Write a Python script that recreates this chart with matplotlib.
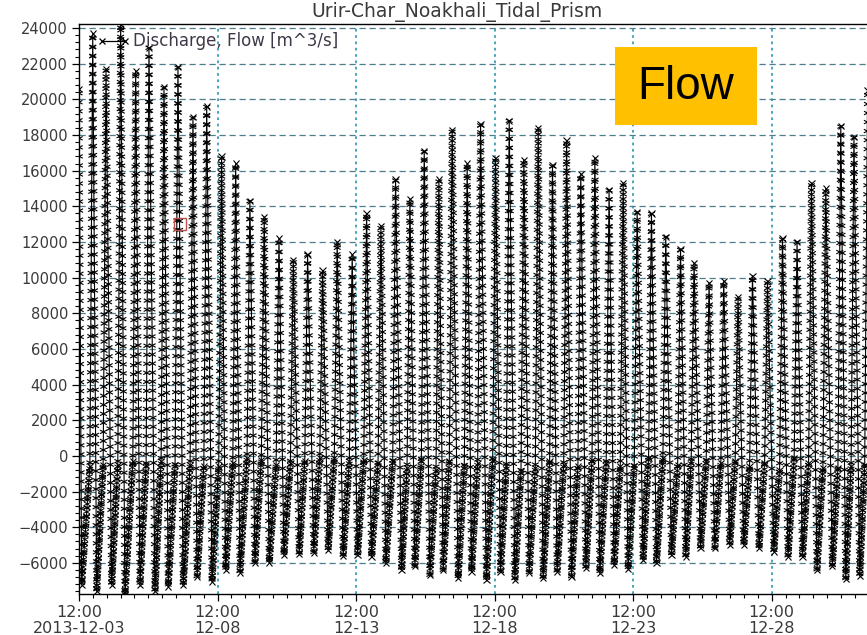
import datetime as dt

import matplotlib
matplotlib.use('Agg')
import matplotlib.pyplot as plt
import matplotlib.dates as mdates
import matplotlib.patheffects as pe
from matplotlib.lines import Line2D
from matplotlib.patches import Rectangle
from matplotlib.ticker import MultipleLocator, FixedLocator

start = dt.datetime(2013, 12, 3, 12, 0)

# flood peaks (hours after 2013-12-03 12:00, m^3/s)
peak_hours = [0.0, 11.9, 23.4, 36.1, 49.1, 60.6, 73.6, 85.7, 98.7, 110.6,
              123.5, 135.7, 148.0, 160.4, 173.2, 185.6, 198.0, 211.0, 223.6, 236.6,
              249.1, 261.5, 274.2, 286.6, 299.0, 311.7, 323.2, 336.2, 347.8, 360.8,
              372.6, 385.3, 397.7, 410.1, 422.3, 434.6, 446.8, 459.1, 471.3, 483.4,
              495.8, 508.2, 521.0, 532.7, 545.7, 558.4, 570.8, 583.3, 596.3, 609.3,
              621.9, 634.4, 646.8, 659.8, 671.2, 683.0]
peak_flow = [20600, 23700, 21700, 24200, 21600, 22900, 20700, 21800, 19000, 19600,
             16800, 16400, 14300, 13400, 12200, 11000, 11300, 10400, 12000, 11300,
             13600, 12900, 15500, 14400, 17100, 15500, 18300, 16400, 18600, 16700,
             18800, 16600, 18400, 16300, 17700, 15800, 16700, 14900, 15300, 13700,
             13600, 12300, 11600, 10800, 9700, 9800, 8900, 10100, 9800, 12200,
             12000, 15300, 15000, 18500, 17900, 20500]

# strongest ebb after each peak
trough_hours = [2.3, 15.3, 28.3, 39.8, 52.8, 65.8, 77.3, 90.3, 102.3, 115.2,
                127.0, 139.4, 152.4, 164.8, 177.5, 190.7, 203.4, 215.8, 228.8, 241.3,
                253.4, 265.8, 279.4, 290.9, 303.9, 315.4, 328.4, 340.0, 352.9, 365.1,
                377.5, 389.9, 402.0, 414.1, 426.6, 439.0, 451.1, 463.5, 475.6, 488.6,
                500.2, 513.2, 525.5, 538.3, 550.7, 563.6, 575.8, 589.0, 601.8, 614.1,
                626.6, 639.2, 652.5, 664.1, 676.2]
trough_flow = [-7230, -7600, -7230, -7800, -7230, -7600, -7330, -7230, -6770, -7050,
               -6390, -6540, -5980, -5980, -5550, -5500, -5420, -5270, -5610, -5550,
               -5640, -6020, -6390, -6200, -6670, -6390, -6860, -6490, -6950, -6490,
               -6950, -6540, -6860, -6490, -6770, -6300, -6580, -6110, -6350, -5830,
               -6020, -5550, -5650, -5180, -5180, -4990, -4990, -5180, -5370, -5650,
               -5650, -6390, -6200, -6910, -6730]

# weak ebb just before the next flood
slack_hours = [9.4, 20.9, 33.6, 46.6, 58.1, 71.1, 83.2, 96.2, 108.1, 121.0,
               133.2, 145.5, 157.9, 170.7, 183.1, 195.5, 208.5, 221.1, 234.1, 246.6,
               259.0, 271.7, 284.1, 296.5, 309.2, 320.7, 333.7, 345.3, 358.3, 370.1,
               382.8, 395.2, 407.6, 419.8, 432.1, 444.3, 456.6, 468.8, 480.9, 493.3,
               505.7, 518.5, 530.2, 543.2, 555.9, 568.3, 580.8, 593.8, 606.8, 619.4,
               631.9, 644.3, 657.3, 668.7, 680.5]
slack_flow = [-600, -505, -505, -320, -505, -320, -505, -505, -600, -600,
              -410, -130, -220, -505, -410, -320, -130, -130, -320, -220,
              -410, -320, -690, -220, -785, -320, -600, -410, -220, -600,
              -880, -690, -320, -505, -600, -220, -410, -600, -600, -130,
              -130, -505, -320, -320, -410, -320, -600, -410, -785, -130,
              -410, -690, -690, -600, -505]

# small red box drawn on the original chart
box_hours = [87.4]
box_flow = [13000]

tick_days = [3, 8, 13, 18, 23, 28]
tick_labels = ['12:00\n2013-12-03', '12:00\n12-08', '12:00\n12-13',
               '12:00\n12-18', '12:00\n12-23', '12:00\n12-28']


def when(h):
    return start + dt.timedelta(hours=h)


# peak -> trough -> slack -> next peak
hours = [peak_hours[0]]
flow = [peak_flow[0]]
for k in range(len(trough_hours)):
    hours += [trough_hours[k], slack_hours[k], peak_hours[k + 1]]
    flow += [trough_flow[k], slack_flow[k], peak_flow[k + 1]]
times = [when(h) for h in hours]

txt = '#3a3a3a'
plt.rcParams['font.family'] = ['DejaVu Sans']

fig = plt.figure(figsize=(8.67, 6.35), dpi=100)
W, H = 867, 635
ax = fig.add_axes([79 / W, 1 - 594 / H, (W - 79) / W, (594 - 24) / H])


def xmarks(spacing, arm):
    # little x-crosses stamped along a path
    return [pe.TickedStroke(spacing=spacing, angle=a, length=arm / spacing)
            for a in (62, 118, -62, -118)]


line, = ax.plot(times, flow, color='black', lw=0.8, marker='x', ms=4.5, mew=0.8, zorder=3)
line.set_path_effects([pe.Normal()] + xmarks(6.5, 2.4))

# the slow ebb legs (trough -> slack) carry many more samples
for k in range(len(trough_hours)):
    seg, = ax.plot([when(trough_hours[k]), when(slack_hours[k])],
                   [trough_flow[k], slack_flow[k]], color='black', lw=0.7, zorder=3)
    seg.set_path_effects(xmarks(2.8, 2.4))

ax.plot([when(h) for h in box_hours], box_flow, ls='none',
        marker='s', ms=8, mfc='none', mec='#c0504d', mew=1, zorder=4)

ax.set_xlim(start, when(682.5))
ax.set_ylim(-7750, 24230)

ax.xaxis.set_major_locator(FixedLocator([mdates.date2num(dt.datetime(2013, 12, d, 12)) for d in tick_days]))
ax.set_xticklabels(tick_labels)
ax.xaxis.set_minor_locator(mdates.HourLocator(byhour=[0, 12]))
ax.yaxis.set_major_locator(MultipleLocator(2000))
ax.yaxis.set_minor_locator(MultipleLocator(400))

ax.tick_params(axis='both', which='major', length=5, width=0.9, color='black', labelcolor=txt)
ax.tick_params(axis='both', which='minor', length=3, width=0.8, color='black')
ax.tick_params(axis='y', labelsize=10.5, pad=3)
ax.tick_params(axis='x', labelsize=11.5, pad=3)
for lab in ax.get_xticklabels():
    lab.set_linespacing(1.05)

ax.grid(axis='y', which='major', color='#4f7f8f', ls=(0, (5, 3)), lw=0.9)
ax.grid(axis='x', which='major', color='#3a9fb5', ls=(0, (1.5, 2)), lw=1.3)
ax.set_axisbelow(True)
ax.spines['right'].set_visible(False)
for s in ('left', 'top', 'bottom'):
    ax.spines[s].set_linewidth(1.0)

handle = Line2D([], [], color='black', lw=0.9, marker='x', ms=5, mew=0.9)
ax.legend([handle], ['Discharge, Flow [m^3/s]'], loc='upper left', bbox_to_anchor=(0.012, 1.0),
          frameon=False, fontsize=12, handlelength=2.0, handletextpad=0.2, numpoints=2,
          labelcolor='#403848', borderaxespad=0.1)

fig.text(457 / W, 1 - 12 / H, 'Urir-Char_Noakhali_Tidal_Prism', ha='center', va='center',
         fontsize=13.5, color=txt)

fig.add_artist(Rectangle((615 / W, 1 - 125 / H), 142 / W, 78 / H, transform=fig.transFigure,
                         facecolor='#FFC000', edgecolor='none', zorder=5))
fig.text(686 / W, 1 - 87 / H, 'Flow', ha='center', va='center', fontsize=33,
         family='Liberation Sans', color='black', zorder=6)

fig.savefig('out.png', dpi=100)
